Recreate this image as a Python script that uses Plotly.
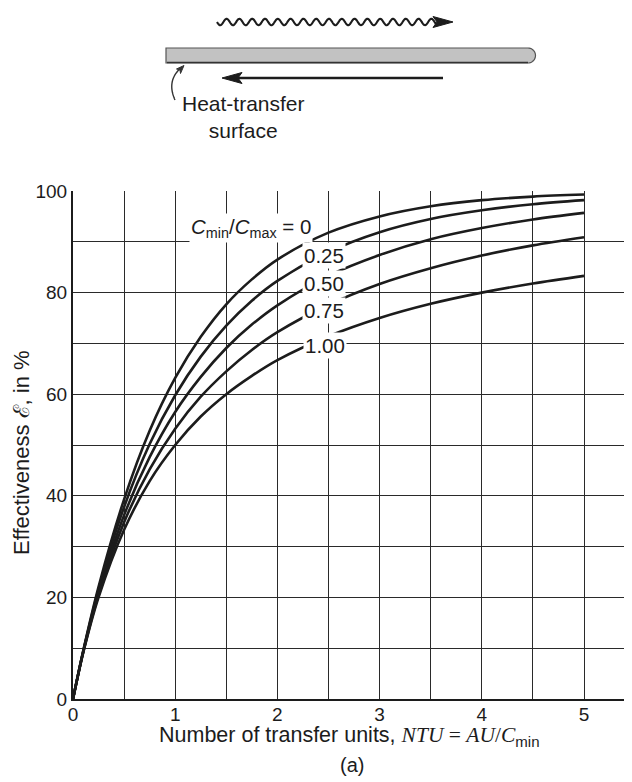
import math
import plotly.graph_objects as go

# ---------------- data ----------------
ntu = [0, 0.1, 0.25, 0.5, 0.75, 1.0, 1.25, 1.5, 1.75, 2.0, 2.5, 3.0, 3.5, 4.0, 4.5, 5.0]
eff_c000 = [0, 9.5, 22.1, 39.3, 52.8, 63.2, 71.3, 77.7, 82.6, 86.5, 91.8, 95.0, 97.0, 98.2, 98.9, 99.3]
eff_c025 = [0, 9.4, 21.6, 37.8, 50.2, 59.8, 67.4, 73.5, 78.4, 82.3, 88.0, 91.9, 94.5, 96.2, 97.4, 98.2]
eff_c050 = [0, 9.3, 21.0, 36.2, 47.6, 56.5, 63.4, 69.1, 73.7, 77.5, 83.3, 87.4, 90.5, 92.7, 94.4, 95.7]
eff_c075 = [0, 9.2, 20.5, 34.8, 45.2, 53.2, 59.5, 64.5, 68.7, 72.2, 77.6, 81.7, 84.8, 87.3, 89.3, 90.9]
eff_c100 = [0, 9.1, 20.0, 33.3, 42.9, 50.0, 55.6, 60.0, 63.6, 66.7, 71.4, 75.0, 77.8, 80.0, 81.8, 83.3]
series = [eff_c000, eff_c025, eff_c050, eff_c075, eff_c100]
ratio_labels = ["<i>C</i><sub>min</sub>/<i>C</i><sub>max</sub> = 0", "0.25", "0.50", "0.75", "1.00"]
x_ticks = [0, 1, 2, 3, 4, 5]
y_ticks = [0, 20, 40, 60, 80, 100]

# ---------------- layout geometry ----------------
# the page body has an 8px margin, so the figure is drawn 8px smaller and
# all reference pixel positions are shifted by that amount
OFF = 8
W, H = 632 - OFF, 782 - OFF
L, R, T, B = 73, 632, 191, 699          # reference pixel positions of plot area
X_MAX = (R - L) / 102.2

def px(x, y):
    return (x - L) / (R - L), (B - y) / (B - T)

def path(points, close=False):
    s = " ".join(("M" if i == 0 else "L") + f"{px(x, y)[0]:.5f},{px(x, y)[1]:.5f}" for i, (x, y) in enumerate(points))
    return s + (" Z" if close else "")

INK = "#1c1c1c"
FONT = "Liberation Sans, Arial, sans-serif"

fig = go.Figure()
for ys in series:
    fig.add_trace(go.Scatter(x=ntu, y=ys, mode="lines",
                             line=dict(color=INK, width=2.6, shape="spline", smoothing=0.9),
                             hoverinfo="skip", showlegend=False))

shapes = []
# wavy arrow (top)
wave = []
x0w, x1w = 217, 436
n = 400
for i in range(n + 1):
    x = x0w + (x1w - x0w) * i / n
    wave.append((x, 22 + 3.2 * math.sin(2 * math.pi * (x - x0w) / 12.8)))
shapes.append(dict(type="path", xref="paper", yref="paper", path=path(wave),
                   line=dict(color=INK, width=2.1)))
shapes.append(dict(type="path", xref="paper", yref="paper",
                   path=path([(453, 22), (433, 16.5), (437, 22), (433, 27.5)], close=True),
                   fillcolor=INK, line=dict(color=INK, width=1)))
# heat-transfer surface bar
bar = [(166, 48)]
for k in range(0, 21):
    a = -math.pi / 2 + math.pi * k / 20
    bar.append((528 + 7.5 * math.cos(a), 55.5 + 7.5 * math.sin(a)))
bar.append((166, 63))
shapes.append(dict(type="path", xref="paper", yref="paper", path=path(bar, close=True),
                   fillcolor="#c2c2c2", line=dict(color="#555555", width=1.2)))
shapes.append(dict(type="line", xref="paper", yref="paper",
                   x0=px(167, 62.5)[0], y0=px(167, 62.5)[1], x1=px(528, 62.5)[0], y1=px(528, 62.5)[1],
                   line=dict(color="#333333", width=1.5)))
# counter-flow arrow (bottom)
shapes.append(dict(type="line", xref="paper", yref="paper",
                   x0=px(443, 78)[0], y0=px(443, 78)[1], x1=px(236, 78)[0], y1=px(236, 78)[1],
                   line=dict(color=INK, width=2.6)))
shapes.append(dict(type="path", xref="paper", yref="paper",
                   path=path([(222, 78), (242, 72.5), (238, 78), (242, 83.5)], close=True),
                   fillcolor=INK, line=dict(color=INK, width=1)))
# leader to the surface
lead = []
for k in range(31):
    t = k / 30
    p0, p1, p2 = (175, 100), (166, 80), (182, 67)
    lx = (1 - t) ** 2 * p0[0] + 2 * (1 - t) * t * p1[0] + t ** 2 * p2[0]
    ly = (1 - t) ** 2 * p0[1] + 2 * (1 - t) * t * p1[1] + t ** 2 * p2[1]
    lead.append((lx, ly))
shapes.append(dict(type="path", xref="paper", yref="paper", path=path(lead),
                   line=dict(color="#333333", width=1.4)))
shapes.append(dict(type="path", xref="paper", yref="paper",
                   path=path([(184, 65.5), (176.5, 69), (180, 70), (180.5, 73.5)], close=True),
                   fillcolor="#333333", line=dict(color="#333333", width=1)))

annotations = []
annotations.append(dict(xref="paper", yref="paper", x=px(243, 103)[0], y=px(243, 103)[1],
                        text="Heat-transfer<br>surface", showarrow=False, align="center",
                        xanchor="center", yanchor="top", yshift=13,
                        font=dict(family=FONT, size=21, color=INK)))
# curve labels
lab_pos = [(313, 228, "right"), (324, 255, "center"), (324, 283, "center"),
           (324, 310, "center"), (325, 345, "center")]
for (lx, ly, anc), txt in zip(lab_pos, ratio_labels):
    annotations.append(dict(xref="x", yref="y", x=(lx - L) / 102.2, y=(B - ly) / 5.08,
                            text=txt, showarrow=False, xanchor=anc, yanchor="middle",
                            bgcolor="white", borderpad=1,
                            font=dict(family=FONT, size=20.5, color=INK)))
# axis titles
annotations.append(dict(xref="paper", yref="paper", x=px(349, 736)[0], y=px(349, 736)[1],
                        text="Number of transfer units, "
                             "<span style=\"font-family:'Liberation Serif',serif\"><i>NTU</i> = <i>AU</i>/<i>C</i></span>"
                             "<sub>min</sub>",
                        showarrow=False, xanchor="center", yanchor="middle",
                        font=dict(family=FONT, size=21.5, color=INK)))
annotations.append(dict(xref="paper", yref="paper", x=px(352, 765)[0], y=px(352, 765)[1],
                        text="(a)", showarrow=False, xanchor="center", yanchor="middle",
                        font=dict(family=FONT, size=20, color=INK)))
annotations.append(dict(xref="paper", yref="paper", x=px(21, 453)[0], y=px(21, 453)[1],
                        text="Effectiveness ℰ, in %", textangle=-90,
                        showarrow=False, xanchor="center", yanchor="middle",
                        font=dict(family=FONT, size=22, color=INK)))

grid_col = "#2a2a2a"
fig.update_layout(
    width=W, height=H,
    margin=dict(l=L - OFF, r=632 - R, t=T - OFF, b=782 - B, pad=0),
    paper_bgcolor="white", plot_bgcolor="white",
    font=dict(family=FONT, size=19, color=INK),
    shapes=shapes, annotations=annotations,
    xaxis=dict(range=[0, X_MAX], tickvals=x_ticks, ticktext=[str(v) for v in x_ticks],
               showgrid=True, gridcolor=grid_col, gridwidth=1.3,
               minor=dict(dtick=0.5, showgrid=True, gridcolor=grid_col, gridwidth=1.3),
               showline=True, linecolor=INK, linewidth=2, zeroline=False,
               ticks="", ticklabelstandoff=-3, tickfont=dict(size=19)),
    yaxis=dict(range=[0, 100], tickvals=y_ticks, ticktext=[str(v) for v in y_ticks],
               showgrid=True, gridcolor=grid_col, gridwidth=1.3,
               minor=dict(dtick=10, showgrid=True, gridcolor=grid_col, gridwidth=1.3),
               showline=True, linecolor=INK, linewidth=2, zeroline=False,
               ticks="", tickfont=dict(size=19)),
)
fig.write_html("out.html")
